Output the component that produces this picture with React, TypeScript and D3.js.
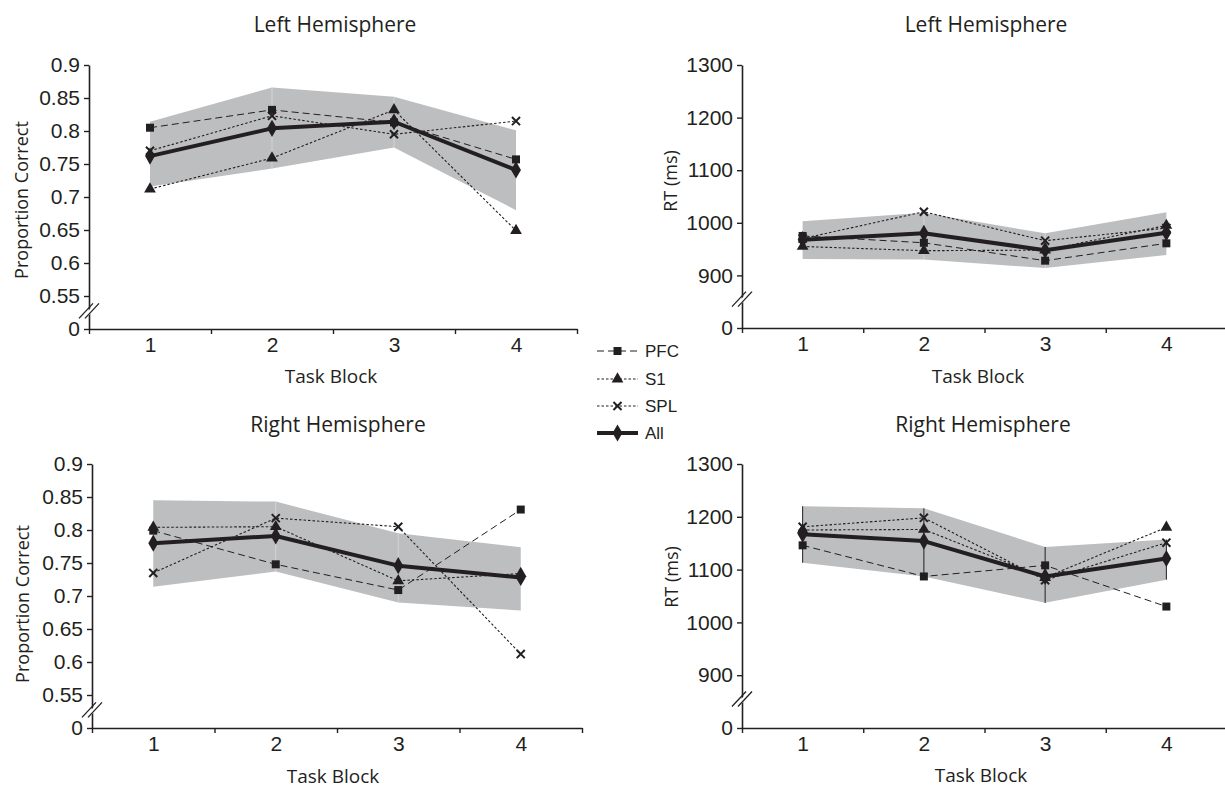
import { useEffect, useRef } from "react";
import * as d3 from "d3";

const BLOCKS = [1, 2, 3, 4];
const ACC_TICKS = [0, 0.55, 0.6, 0.65, 0.7, 0.75, 0.8, 0.85, 0.9];
const RT_TICKS = [0, 900, 1000, 1100, 1200, 1300];
const SERIES = ["PFC", "S1", "SPL", "All"];

// Left hemisphere, proportion correct
const L_ACC_PFC = [0.805, 0.832, 0.813, 0.757];
const L_ACC_S1 = [0.712, 0.759, 0.832, 0.649];
const L_ACC_SPL = [0.77, 0.823, 0.795, 0.815];
const L_ACC_ALL = [0.762, 0.804, 0.814, 0.741];
const L_ACC_HI = [0.814, 0.866, 0.852, 0.801];
const L_ACC_LO = [0.716, 0.743, 0.775, 0.68];

// Left hemisphere, RT
const L_RT_PFC = [975, 962, 928, 961];
const L_RT_S1 = [955, 947, 948, 995];
const L_RT_SPL = [970, 1021, 966, 990];
const L_RT_ALL = [968, 980, 948, 981];
const L_RT_HI = [1003, 1019, 980, 1020];
const L_RT_LO = [931, 930, 914, 939];

// Right hemisphere, proportion correct
const R_ACC_PFC = [0.799, 0.748, 0.709, 0.831];
const R_ACC_S1 = [0.804, 0.805, 0.723, 0.734];
const R_ACC_SPL = [0.735, 0.818, 0.805, 0.612];
const R_ACC_ALL = [0.78, 0.791, 0.746, 0.728];
const R_ACC_HI = [0.845, 0.843, 0.795, 0.774];
const R_ACC_LO = [0.714, 0.737, 0.69, 0.678];

// Right hemisphere, RT
const R_RT_PFC = [1146, 1087, 1108, 1030];
const R_RT_S1 = [1175, 1176, 1085, 1180];
const R_RT_SPL = [1181, 1198, 1080, 1151];
const R_RT_ALL = [1167, 1154, 1087, 1121];
const R_RT_HI = [1220, 1216, 1143, 1157];
const R_RT_LO = [1113, 1087, 1037, 1081];

const W = 1225;
const H = 788;
const INK = "#231f20";
const BAND = "#bcbec0";
const SANS = "'Liberation Sans', Arial, sans-serif";
const HUMAN = "'Open Sans', 'Noto Sans', sans-serif";

const STYLE: Record<string, { dash: string | null; width: number; symbol: d3.SymbolType; size: number; stroke?: boolean }> = {
  PFC: { dash: "7,4", width: 1, symbol: d3.symbolSquare, size: 64 },
  S1: { dash: "2.5,2", width: 1.1, symbol: d3.symbolTriangle, size: 60 },
  SPL: { dash: "2.5,2", width: 1.1, symbol: d3.symbolTimes, size: 44, stroke: true },
  All: { dash: null, width: 4, symbol: d3.symbolDiamond, size: 85 },
};

const PANELS = [
  {
    title: "Left Hemisphere", titleX: 335, titleY: 32,
    yLabel: "Proportion Correct", yLabelX: 28, yLabelY: 200,
    xLabelX: 331, xLabelY: 383,
    x0: 89, w: 488, top: 65, bottom: 329, ticks: ACC_TICKS,
    series: [L_ACC_PFC, L_ACC_S1, L_ACC_SPL, L_ACC_ALL], hi: L_ACC_HI, lo: L_ACC_LO, bars: false,
  },
  {
    title: "Left Hemisphere", titleX: 986, titleY: 32,
    yLabel: "RT (ms)", yLabelX: 677, yLabelY: 181,
    xLabelX: 978, xLabelY: 383,
    x0: 742, w: 485, top: 65, bottom: 328, ticks: RT_TICKS,
    series: [L_RT_PFC, L_RT_S1, L_RT_SPL, L_RT_ALL], hi: L_RT_HI, lo: L_RT_LO, bars: false,
  },
  {
    title: "Right Hemisphere", titleX: 338, titleY: 432,
    yLabel: "Proportion Correct", yLabelX: 29, yLabelY: 604,
    xLabelX: 333, xLabelY: 783,
    x0: 92, w: 490, top: 464, bottom: 728, ticks: ACC_TICKS,
    series: [R_ACC_PFC, R_ACC_S1, R_ACC_SPL, R_ACC_ALL], hi: R_ACC_HI, lo: R_ACC_LO, bars: false,
  },
  {
    title: "Right Hemisphere", titleX: 983, titleY: 432,
    yLabel: "RT (ms)", yLabelX: 678, yLabelY: 577,
    xLabelX: 981, xLabelY: 782,
    x0: 742, w: 485, top: 464, bottom: 728, ticks: RT_TICKS,
    series: [R_RT_PFC, R_RT_S1, R_RT_SPL, R_RT_ALL], hi: R_RT_HI, lo: R_RT_LO, bars: true,
  },
];

const LEGEND = { x1: 597, x2: 638, textX: 645, rows: [351, 379, 406, 433] };

function drawMarker(g: d3.Selection<SVGGElement, unknown, null, undefined>, name: string, cx: number, cy: number) {
  const st = STYLE[name];
  const p = g.append("path")
    .attr("transform", `translate(${cx},${cy})`)
    .attr("d", d3.symbol().type(st.symbol).size(st.size)());
  if (st.stroke) p.attr("fill", "none").attr("stroke", INK).attr("stroke-width", 2);
  else p.attr("fill", INK);
}

export default function App() {
  const svgRef = useRef<SVGSVGElement>(null);

  useEffect(() => {
    document.body.style.margin = "0";
    if (!svgRef.current) return;
    const svg = d3.select(svgRef.current);
    svg.selectAll("*").remove();

    PANELS.forEach((p) => {
      const g = svg.append("g");
      const step = (p.bottom - p.top) / (p.ticks.length - 1);
      const y = d3.scaleLinear()
        .domain([0, p.ticks[1], p.ticks[p.ticks.length - 1]])
        .range([p.bottom, p.bottom - step, p.top]);
      const x = d3.scaleLinear().domain([0.5, 4.5]).range([p.x0, p.x0 + p.w]);

      // Shaded band
      const area = d3.area<number>()
        .x((_, i) => x(BLOCKS[i]))
        .y0((_, i) => y(p.lo[i]))
        .y1((d) => y(d));
      g.append("path").datum(p.hi).attr("d", area).attr("fill", BAND);

      // seams / error bars
      BLOCKS.forEach((b, i) => {
        if (p.bars) {
          g.append("line")
            .attr("x1", x(b)).attr("x2", x(b))
            .attr("y1", y(p.hi[i])).attr("y2", y(p.lo[i]))
            .attr("stroke", INK).attr("stroke-width", 1);
        } else if (i > 0 && i < BLOCKS.length - 1) {
          g.append("line")
            .attr("x1", x(b)).attr("x2", x(b))
            .attr("y1", y(p.hi[i])).attr("y2", y(p.lo[i]))
            .attr("stroke", "#d3d4d6").attr("stroke-width", 1);
        }
      });

      // Axes
      const fmt = (d: d3.NumberValue) => String(+(+d).toFixed(2));
      const yAxis = g.append("g")
        .attr("transform", `translate(${p.x0},0)`)
        .call(d3.axisLeft(y).tickValues(p.ticks).tickSize(5).tickSizeOuter(0).tickPadding(4).tickFormat(fmt));
      yAxis.select(".domain").attr("stroke", INK).attr("stroke-width", 1.6);
      yAxis.selectAll(".tick line").attr("stroke", INK).attr("stroke-width", 1.4);
      yAxis.selectAll("text").attr("fill", INK).style("font-family", SANS).style("font-size", "21px");

      const xAxis = g.append("g")
        .attr("transform", `translate(0,${p.bottom})`)
        .call(d3.axisBottom(x).tickValues([0.5, 1.5, 2.5, 3.5, 4.5]).tickSize(5).tickSizeOuter(0).tickFormat(() => ""));
      xAxis.select(".domain").attr("stroke", INK).attr("stroke-width", 1.6);
      xAxis.selectAll(".tick line").attr("stroke", INK).attr("stroke-width", 1.4);

      const xLabels = g.append("g")
        .attr("transform", `translate(0,${p.bottom})`)
        .call(d3.axisBottom(x).tickValues(BLOCKS).tickSize(0).tickPadding(8).tickFormat(d3.format("d")));
      xLabels.select(".domain").remove();
      xLabels.selectAll("text").attr("fill", INK).style("font-family", SANS).style("font-size", "21px");

      // axis break marks
      const by = p.bottom - step * 0.55;
      g.append("polygon")
        .attr("points", [[p.x0 - 9, by + 7], [p.x0 + 7, by - 7], [p.x0 + 1, by - 7], [p.x0 - 15, by + 7]].map((q) => q.join(",")).join(" "))
        .attr("transform", "translate(6,0)")
        .attr("fill", "white");
      [-3, 3].forEach((dx) => {
        g.append("line")
          .attr("x1", p.x0 + dx - 7).attr("y1", by + 7.5)
          .attr("x2", p.x0 + dx + 7).attr("y2", by - 7.5)
          .attr("stroke", INK).attr("stroke-width", 1.3);
      });

      // Series lines + markers
      SERIES.forEach((name, si) => {
        const st = STYLE[name];
        const vals = p.series[si];
        const line = d3.line<number>().x((_, i) => x(BLOCKS[i])).y((d) => y(d));
        const path = g.append("path").datum(vals).attr("d", line)
          .attr("fill", "none").attr("stroke", INK).attr("stroke-width", st.width)
          .attr("stroke-linejoin", "round");
        if (st.dash) path.attr("stroke-dasharray", st.dash);
        vals.forEach((v, i) => drawMarker(g, name, x(BLOCKS[i]), y(v)));
      });

      // Titles and labels
      g.append("text")
        .attr("x", p.titleX).attr("y", p.titleY)
        .attr("text-anchor", "middle").attr("fill", INK)
        .style("font-family", HUMAN).style("font-size", "21px")
        .text(p.title);
      g.append("text")
        .attr("x", p.xLabelX).attr("y", p.xLabelY)
        .attr("text-anchor", "middle").attr("fill", INK)
        .style("font-family", HUMAN).style("font-size", "19px")
        .text("Task Block");
      g.append("text")
        .attr("transform", `translate(${p.yLabelX},${p.yLabelY}) rotate(-90)`)
        .attr("text-anchor", "middle").attr("fill", INK)
        .style("font-family", HUMAN).style("font-size", "18px")
        .text(p.yLabel);
    });

    // Legend
    const lg = svg.append("g");
    SERIES.forEach((name, i) => {
      const st = STYLE[name];
      const ly = LEGEND.rows[i];
      const l = lg.append("line")
        .attr("x1", LEGEND.x1).attr("x2", LEGEND.x2)
        .attr("y1", ly).attr("y2", ly)
        .attr("stroke", INK).attr("stroke-width", st.width);
      if (st.dash) l.attr("stroke-dasharray", st.dash);
      drawMarker(lg, name, (LEGEND.x1 + LEGEND.x2) / 2, ly);
      lg.append("text")
        .attr("x", LEGEND.textX).attr("y", ly + 6)
        .attr("fill", INK)
        .style("font-family", SANS).style("font-size", "17px")
        .text(name);
    });
  }, []);

  return <svg ref={svgRef} width={W} height={H} style={{ display: "block", background: "white" }} />;
}
